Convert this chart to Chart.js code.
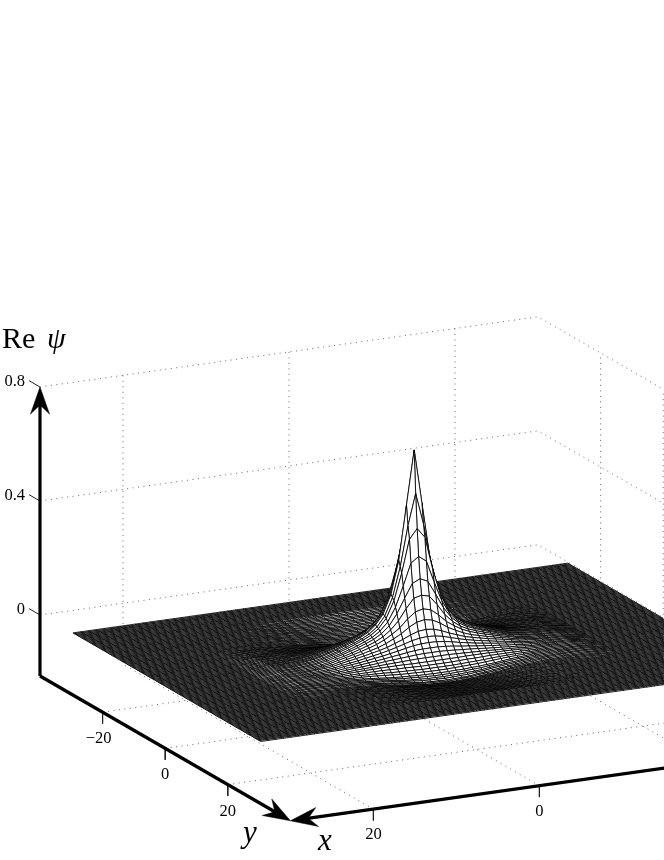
<!DOCTYPE html>
<html>
<head>
<meta charset="utf-8">
<style>
  html, body { margin: 0; padding: 0; background: #fff; }
  canvas { display: block; }
</style>
<script src="https://cdn.jsdelivr.net/npm/chart.js@4/dist/chart.umd.min.js"></script>
</head>
<body>
<canvas id="superficie" width="664" height="860"></canvas>
<script>
// Mesh lines of the surface, listed from the centre out
const x_malla_pos = [0,0.93,1.86,2.79,3.73,4.66,5.59,6.52,7.45,8.38,9.31,10.24,11.18,12.11,13.04,13.97,14.9,15.83,16.76,17.69,18.63,19.56,20.49,21.42,22.35,23.28,24.21,25.14,26.08,27.01,27.94,28.87,29.8];
const y_malla_pos = [0,0.47,0.94,1.41,1.88,2.34,2.81,3.28,3.75,4.22,4.69,5.16,5.63,6.09,6.56,7.03,7.5,7.97,8.44,8.91,9.38,9.84,10.31,10.78,11.25,11.72,12.19,12.66,13.13,13.59,14.06,14.53,15,15.47,15.94,16.41,16.88,17.34,17.81,18.28,18.75,19.22,19.69,20.16,20.63,21.09,21.56,22.03,22.5,22.97,23.44,23.91,24.38,24.84,25.31,25.78,26.25,26.72,27.19,27.66,28.13,28.59,29.06,29.53,30];

// Re psi in thousandths, row = mesh line in y, column = mesh line in x, 0 at the peak. Flat (0) further out
const re_psi = [
  [710,520,330,215,150,115,92,78,66,56,46,38,30,24,20,17,15,14,12,7,4],
  [560,450,310,206,145,111,90,76,65,55,45,37,29,23,19,17,15,14,12,7,4],
  [440,406,291,198,140,108,88,75,64,54,45,37,29,23,19,17,15,14,12,7,4],
  [345,325,248,178,130,102,84,72,61,52,43,36,28,22,18,16,14,13,12,7,4],
  [270,257,209,158,120,96,80,69,59,50,42,35,27,22,18,16,14,13,12,7,4],
  [215,208,175,136,108,88,74,64,55,47,39,33,25,20,17,15,13,12,11,6,3],
  [170,163,142,115,96,80,68,59,51,44,37,31,24,19,16,14,13,12,10,6,3],
  [135,130,116,97,83,70,60,53,46,40,34,28,22,18,15,13,12,11,10,6,3],
  [104,101,92,80,70,60,53,47,41,36,31,26,20,17,15,13,12,11,10,6,3],
  [82,80,75,67,59,52,46,41,36,31,27,23,18,15,13,12,11,10,10,5,3],
  [64,63,60,55,49,44,39,35,31,27,24,21,16,14,12,11,11,10,10,5,3],
  [48,48,46,43,39,36,32,29,26,23,20,18,14,12,11,10,10,9,9,5,2],
  [35,35,34,32,30,28,26,23,21,19,17,15,12,10,10,10,10,9,8,5,2],
  [23,23,23,22,21,20,19,18,16,15,14,12,10,9,9,9,9,8,8,5,2],
  [12,12,12,12,13,13,13,13,12,12,11,10,8,8,8,9,8,7,8,5,2],
  [3,3,3,4,5,5,6,7,7,7,7,7,6,6,7,8,7,6,7,4,2],
  [-5,-5,-5,-4,-3,-2,-1,1,2,3,4,4,4,5,6,7,6,6,6,4,2],
  [-12,-12,-11,-10,-9,-8,-6,-4,-2,0,1,2,3,4,5,6,5,5,5,3,2],
  [-18,-18,-17,-17,-15,-14,-12,-10,-7,-4,-2,0,2,3,4,5,4,5,5,3,2],
  [-22,-22,-21,-20,-18,-17,-14,-11,-8,-6,-3,-1,1,2,3,4,4,4,4,3,1],
  [-26,-25,-25,-23,-22,-20,-16,-13,-10,-8,-5,-2,0,1,2,3,4,4,4,3,1],
  [-29,-28,-27,-26,-23,-21,-17,-14,-11,-9,-5,-3,-1,0,1,2,3,3,3,2,1],
  [-32,-31,-30,-29,-25,-23,-19,-16,-13,-10,-6,-4,-2,0,1,2,3,3,3,2,1],
  [-33,-32,-30,-29,-25,-23,-20,-16,-13,-10,-7,-5,-2,-1,0,1,2,2,2,1,1],
  [-33,-33,-31,-30,-26,-24,-21,-17,-14,-10,-8,-6,-3,-2,-1,1,1,1,2,1,1],
  [-32,-32,-30,-29,-25,-23,-20,-16,-13,-10,-8,-6,-3,-2,-1,0,1,1,1,1,1],
  [-30,-30,-29,-28,-24,-22,-19,-16,-13,-9,-7,-6,-3,-2,-1,0,0,1,1,1,0],
  [-29,-29,-27,-26,-23,-21,-18,-15,-12,-9,-7,-5,-3,-2,-1,0,0,1,1,1,0],
  [-27,-27,-26,-25,-22,-20,-17,-14,-12,-8,-7,-5,-2,-2,-1,0,0,0,1,0,0],
  [-26,-26,-24,-24,-21,-19,-17,-13,-11,-8,-6,-5,-2,-2,-1],
  [-25,-25,-23,-22,-20,-18,-16,-13,-11,-8,-6,-5,-2,-2,-1],
  [-23,-23,-22,-21,-18,-17,-15,-12,-10,-7,-6,-4,-2,-1,-1],
  [-22,-22,-21,-20,-17,-16,-14,-11,-9,-7,-5,-4,-2,-1,-1],
  [-21,-21,-19,-19,-16,-15,-13,-11,-9,-6,-5,-4,-2,-1,-1],
  [-19,-19,-18,-17,-15,-14,-12,-10,-8,-6,-5,-3,-2,-1,-1],
  [-18,-18,-17,-16,-14,-13,-11,-9,-8,-5,-4,-3,-2,-1,-1],
  [-17,-17,-16,-15,-13,-12,-11,-9,-7,-5,-4,-3,-2,-1],
  [-15,-15,-14,-14,-12,-11,-10,-8,-6,-5,-4,-3,-1,-1],
  [-14,-14,-13,-13,-11,-10,-9,-7,-6,-4,-3,-3,-1,-1],
  [-12,-12,-12,-11,-10,-9,-8,-6,-5,-4,-3,-2,-1,-1],
  [-11,-11,-10,-10,-9,-8,-7,-6,-5,-3,-3,-2,-1,-1],
  [-10,-10,-9,-9,-8,-7,-6,-5,-4,-3,-2,-2,-1,-1],
  [-8,-8,-8,-8,-7,-6,-5,-4,-4,-3,-2,-2,-1],
  [-7,-7,-7,-6,-5,-5,-4,-4,-3,-2,-2,-1,-1],
  [-6,-6,-5,-5,-4,-4,-4,-3,-2,-2,-1,-1,-1],
  [-4,-4,-4,-4,-3,-3,-3,-2,-2,-1,-1,-1],
  [-3,-3,-2,-2,-2,-2,-2,-1,-1,-1,-1],
  [-1,-1,-1,-1,-1,-1,-1,-1,-1]
];

// Axes ticks
const x_ticks = [20, 0, -20];
const y_ticks = [-20, 0, 20];
const z_ticks = [0.8, 0.4, 0];
const y_etiquetas = ["\u221220", "0", "20"];
const x_etiquetas = ["20", "0", "\u221220"];
const z_etiquetas = ["0.8", "0.4", "0"];

// Box limits
const x_lim = [-30, 30];
const y_lim = [-40, 40];
const z_lim = [-0.214, 0.8];

const x_malla = [...x_malla_pos.slice(1).reverse().map(v => -v), ...x_malla_pos];
const y_malla = [...y_malla_pos.slice(1).reverse().map(v => -v), ...y_malla_pos];
const centro_x = x_malla_pos.length - 1;
const centro_y = y_malla_pos.length - 1;

// View used to project (x, y, z) on the chart plane
function proyecta(x, y, z) {
  return {
    x: 414.2 - 8.3 * x + 3.13 * y,
    y: 652.3 + 1.17 * x + 1.81 * y - 285 * z
  };
}

function nodo(i, j) {
  const fila = re_psi[Math.abs(j - centro_y)];
  const valor = fila ? fila[Math.abs(i - centro_x)] : 0;
  return proyecta(x_malla[i], y_malla[j], (valor || 0) / 1000);
}

function linea(puntos, color, ancho, guiones) {
  return {
    data: puntos,
    showLine: true,
    fill: false,
    borderColor: color,
    borderWidth: ancho,
    borderDash: guiones || [],
    pointRadius: 0,
    tension: 0
  };
}

function poligono(puntos, relleno, borde, ancho) {
  return {
    data: puntos,
    showLine: true,
    fill: 'shape',
    backgroundColor: relleno,
    borderColor: borde,
    borderWidth: ancho,
    pointRadius: 0,
    tension: 0
  };
}

// Arrow head, tip plus the direction it points to
function punta(tip, dx, dy) {
  const largo = Math.hypot(dx, dy);
  const ux = dx / largo, uy = dy / largo;
  const p = (a, b) => ({ x: tip.x - ux * a - uy * b, y: tip.y - uy * a + ux * b });
  return poligono([p(0, 0), p(27, 9.5), p(18, 0), p(27, -9.5), p(0, 0)], '#000', '#000', 0.5);
}

function ejes() {
  const res = [];
  const esquina = proyecta(x_lim[1], y_lim[0], z_lim[0]);
  const cima = proyecta(x_lim[1], y_lim[0], z_lim[1]);
  const frente = proyecta(x_lim[1], y_lim[1], z_lim[0]);
  const fondo = proyecta(x_lim[0], y_lim[1], z_lim[0]);
  res.push(punta(cima, 0, -1));
  res.push(punta(frente, frente.x - esquina.x, frente.y - esquina.y));
  res.push(punta(frente, frente.x - fondo.x, frente.y - fondo.y));
  res.push(linea([esquina, { x: cima.x, y: cima.y + 14 }], '#000', 3.2));
  res.push(linea([esquina, { x: frente.x - 10, y: frente.y - 5.8 }], '#000', 3.2));
  res.push(linea([{ x: frente.x + 10, y: frente.y - 1.4 }, fondo], '#000', 3.2));
  z_ticks.forEach(z => res.push(linea([proyecta(x_lim[1], y_lim[0], z), proyecta(x_lim[1], y_lim[0] - 3.5, z)], '#222', 1)));
  y_ticks.forEach(y => res.push(linea([proyecta(x_lim[1], y, z_lim[0]), proyecta(x_lim[1], y, z_lim[0] - 0.04)], '#222', 1)));
  x_ticks.forEach(x => res.push(linea([proyecta(x, y_lim[1], z_lim[0]), proyecta(x, y_lim[1], z_lim[0] - 0.04)], '#222', 1)));
  return res;
}

// Faces from the viewer to the back: chart.js paints the last dataset first
function caras() {
  const res = [];
  for (let j = y_malla.length - 2; j >= 0; j--) {
    for (let i = x_malla.length - 2; i >= 0; i--) {
      res.push(poligono([nodo(i, j), nodo(i + 1, j), nodo(i + 1, j + 1), nodo(i, j + 1), nodo(i, j)], '#fff', '#000', 0.85));
    }
  }
  return res;
}

function rejilla() {
  const res = [];
  const gris = '#666', puntos = [1, 4.5];
  z_ticks.forEach(z => {
    res.push(linea([proyecta(x_lim[1], y_lim[0], z), proyecta(x_lim[0], y_lim[0], z), proyecta(x_lim[0], y_lim[1], z)], gris, 1, puntos));
  });
  x_ticks.forEach(x => {
    res.push(linea([proyecta(x, y_lim[0], z_lim[1]), proyecta(x, y_lim[0], z_lim[0]), proyecta(x, y_lim[1], z_lim[0])], gris, 1, puntos));
  });
  y_ticks.forEach(y => {
    res.push(linea([proyecta(x_lim[1], y, z_lim[0]), proyecta(x_lim[0], y, z_lim[0]), proyecta(x_lim[0], y, z_lim[1])], gris, 1, puntos));
  });
  return res;
}

const textos = {
  id: 'textos',
  afterDatasetsDraw(chart) {
    const ctx = chart.ctx;
    const sx = chart.scales.x, sy = chart.scales.y;
    const escribe = (txt, p, dx, dy, fuente, alin) => {
      ctx.font = fuente;
      ctx.textAlign = alin;
      ctx.textBaseline = 'alphabetic';
      ctx.fillStyle = '#000';
      ctx.fillText(txt, sx.getPixelForValue(p.x) + dx, sy.getPixelForValue(p.y) + dy);
    };
    const f_tick = '16.5px "Liberation Serif"';
    z_ticks.forEach((z, i) => escribe(z_etiquetas[i], proyecta(x_lim[1], y_lim[0], z), -15, -1, f_tick, 'right'));
    y_ticks.forEach((y, i) => escribe(y_etiquetas[i], proyecta(x_lim[1], y, z_lim[0]), y < 0 ? -4 : 0, 31, f_tick, 'center'));
    x_ticks.forEach((x, i) => escribe(x_etiquetas[i], proyecta(x, y_lim[1], z_lim[0]), x < 0 ? -4 : 0, 30, f_tick, 'center'));
    escribe('Re', { x: 2, y: 348 }, 0, 0, '30px "Liberation Serif"', 'left');
    escribe('\u03c8', { x: 47, y: 348 }, 0, 0, 'italic 30px "Liberation Serif"', 'left');
    escribe('y', { x: 250, y: 842 }, 0, 0, 'italic 31px "Liberation Serif"', 'center');
    escribe('x', { x: 325, y: 850 }, 0, 0, 'italic 31px "Liberation Serif"', 'center');
  }
};

new Chart(document.getElementById('superficie'), {
  type: 'scatter',
  data: { datasets: [...ejes(), ...caras(), ...rejilla()] },
  options: {
    responsive: false,
    animation: false,
    parsing: false,
    layout: { padding: 0 },
    plugins: { legend: { display: false }, tooltip: { enabled: false } },
    scales: {
      x: { type: 'linear', min: 0, max: 664, display: false },
      y: { type: 'linear', min: 0, max: 860, reverse: true, display: false }
    }
  },
  plugins: [textos]
});
</script>
</body>
</html>
